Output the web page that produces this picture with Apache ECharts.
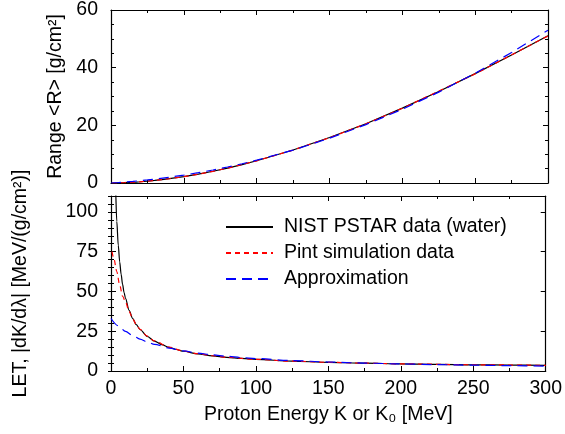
<!DOCTYPE html>
<html>
<head>
<meta charset="utf-8">
<script src="https://cdn.jsdelivr.net/npm/echarts@6/dist/echarts.min.js"></script>
<style>
  html, body { margin: 0; padding: 0; background: #fff; }
  #chart { width: 565px; height: 434px; }
</style>
</head>
<body>
<div id="chart"></div>
<script>
// NIST PSTAR (water)
const nistK = [1, 2, 3, 4, 5, 6, 7, 8, 9, 10, 12.5, 15, 17.5, 20, 25, 30, 35, 40, 45, 50, 60, 70, 80, 90, 100, 125, 150, 175, 200, 225, 250, 275, 300];
const nistRange = [0.0025, 0.0076, 0.0152, 0.0249, 0.0362, 0.0497, 0.0652, 0.0826, 0.1018, 0.123, 0.187, 0.254, 0.336, 0.426, 0.637, 0.885, 1.17, 1.49, 1.84, 2.22, 3.09, 4.08, 5.18, 6.40, 7.72, 11.46, 15.77, 20.57, 25.96, 31.73, 37.94, 44.38, 51.1];
const nistLET = [260.8, 162.4, 117.2, 94.0, 79.1, 68.6, 60.7, 54.4, 49.5, 45.7, 38.2, 32.9, 29.1, 26.1, 21.8, 18.8, 16.6, 14.9, 13.5, 12.4, 10.8, 9.56, 8.62, 7.89, 7.29, 6.20, 5.45, 4.91, 4.49, 4.17, 3.91, 3.70, 3.52];

// Pint simulation
const pintK = [0.7, 2, 4, 6, 8, 10, 12.5, 15, 17.5, 20, 25, 30, 40, 50, 60, 70, 80, 100, 125, 150, 175, 200, 250, 300];
const pintRange = [0.001, 0.0070, 0.0240, 0.0490, 0.0815, 0.121, 0.185, 0.252, 0.333, 0.423, 0.632, 0.878, 1.48, 2.20, 3.07, 4.06, 5.16, 7.69, 11.42, 15.72, 20.52, 25.90, 37.86, 51.0];
const pintLET = [75, 70.5, 62.5, 54, 47, 43.5, 37.5, 32.7, 29.1, 26.2, 21.9, 18.9, 15.0, 12.5, 10.9, 9.6, 8.65, 7.32, 6.22, 5.47, 4.93, 4.50, 3.92, 3.53];

// Approximation
const approxK = [0, 5, 10, 15, 20, 25, 30, 40, 50, 60, 70, 80, 90, 100, 125, 150, 175, 200, 225, 250, 275, 300];
const approxRange = [0, 0.164, 0.352, 0.564, 0.801, 1.063, 1.348, 1.993, 2.735, 3.575, 4.512, 5.547, 6.68, 7.91, 11.41, 15.53, 20.25, 25.58, 31.52, 38.08, 45.24, 53.01];
const approxLET = [33.0, 28.4, 24.96, 22.25, 20.07, 18.28, 16.78, 14.42, 12.64, 11.25, 10.14, 9.23, 8.46, 7.82, 6.57, 5.66, 4.97, 4.43, 4.00, 3.65, 3.35, 3.10];

const names = ['NIST PSTAR data (water)', 'Pint simulation data', 'Approximation'];

const pairs = (xs, ys) => xs.map((x, i) => [x, ys[i]]);

const FONT = 'Liberation Sans, Arial, Helvetica, sans-serif';
const FS = 19.5;

const chart = echarts.init(document.getElementById('chart'), null, { renderer: 'canvas' });

const axisLine = { show: true, onZero: false, lineStyle: { color: '#000', width: 1.2 } };
const majorTick = { show: true, inside: true, length: 5, lineStyle: { color: '#000', width: 1 } };
const minorTickX = { show: true, splitNumber: 2, length: 3, lineStyle: { color: '#000', width: 1 } };

const xBase = (grid, pos, labels) => ({
  type: 'value', gridIndex: grid, position: pos, min: 0, max: 300, interval: 50,
  axisLine, axisTick: majorTick, minorTick: minorTickX, splitLine: { show: false },
  axisLabel: { show: labels, color: '#000', fontSize: FS, fontFamily: FONT, margin: 8 }
});

const option = {
  animation: false,
  backgroundColor: '#fff',
  grid: [
    { left: 111, right: 17, top: 7, height: 176 },
    { left: 111, right: 17, top: 196, height: 175 }
  ],
  legend: {
    data: names,
    orient: 'vertical',
    left: 225,
    top: 217,
    padding: 0,
    itemWidth: 47,
    itemHeight: 14,
    itemGap: 6,
    itemStyle: { opacity: 0 },
    textStyle: { color: '#000', fontSize: FS, fontFamily: FONT, padding: [0, 0, 0, 6] }
  },
  xAxis: [
    xBase(0, 'bottom', false),
    xBase(0, 'top', false),
    Object.assign(xBase(1, 'bottom', true), {
      name: 'Proton Energy K or K₀ [MeV]', nameLocation: 'middle', nameGap: 34,
      nameTextStyle: { color: '#000', fontSize: FS, fontFamily: FONT }
    }),
    xBase(1, 'top', false)
  ],
  yAxis: [
    {
      type: 'value', gridIndex: 0, position: 'left', min: 0, max: 60, interval: 20,
      axisLine, axisTick: majorTick,
      minorTick: { show: true, splitNumber: 4, length: 3, lineStyle: { color: '#000' } },
      splitLine: { show: false },
      axisLabel: { color: '#000', fontSize: FS, fontFamily: FONT, margin: 13 },
      name: 'Range <R> [g/cm²]', nameLocation: 'middle', nameGap: 45,
      nameTextStyle: { color: '#000', fontSize: FS, fontFamily: FONT }
    },
    {
      type: 'value', gridIndex: 0, position: 'right', min: 0, max: 60, interval: 20,
      axisLine, axisTick: majorTick,
      minorTick: { show: true, splitNumber: 4, length: 3, lineStyle: { color: '#000' } },
      splitLine: { show: false }, axisLabel: { show: false }
    },
    {
      type: 'value', gridIndex: 1, position: 'left', min: 0, max: 110, interval: 25,
      axisLine, axisTick: majorTick, splitLine: { show: false },
      axisLabel: { color: '#000', fontSize: FS, fontFamily: FONT, margin: 13, showMaxLabel: false },
      name: 'LET, |dK/dλ| [MeV/(g/cm²)]', nameLocation: 'middle', nameGap: 80,
      nameTextStyle: { color: '#000', fontSize: FS, fontFamily: FONT }
    },
    {
      type: 'value', gridIndex: 1, position: 'right', min: 0, max: 110, interval: 25,
      axisLine, axisTick: majorTick, splitLine: { show: false }, axisLabel: { show: false }
    },
    // minor ticks every 5 on the LET panel
    {
      type: 'value', gridIndex: 1, position: 'left', min: 0, max: 110, interval: 5,
      axisLine: { show: false }, axisTick: { show: true, inside: true, length: 3, lineStyle: { color: '#000' } },
      splitLine: { show: false }, axisLabel: { show: false }
    },
    {
      type: 'value', gridIndex: 1, position: 'right', min: 0, max: 110, interval: 5,
      axisLine: { show: false }, axisTick: { show: true, inside: true, length: 3, lineStyle: { color: '#000' } },
      splitLine: { show: false }, axisLabel: { show: false }
    }
  ],
  series: [
    // top panel: range
    { name: names[0], type: 'line', xAxisIndex: 0, yAxisIndex: 0, data: pairs(nistK, nistRange),
      symbol: 'none', lineStyle: { color: '#000', width: 1.2, type: 'solid' }, itemStyle: { color: '#000' } },
    { name: names[1], type: 'line', xAxisIndex: 0, yAxisIndex: 0, data: pairs(pintK, pintRange),
      symbol: 'none', lineStyle: { color: '#ff0000', width: 1.2, type: [5, 4] }, itemStyle: { color: '#ff0000' } },
    { name: names[2], type: 'line', xAxisIndex: 0, yAxisIndex: 0, data: pairs(approxK, approxRange),
      symbol: 'none', lineStyle: { color: '#0000ff', width: 1.2, type: [10, 6] }, itemStyle: { color: '#0000ff' } },
    // bottom panel: LET
    { name: names[0], type: 'line', xAxisIndex: 2, yAxisIndex: 2, data: pairs(nistK, nistLET),
      symbol: 'none', smooth: 0.3, smoothMonotone: 'x', lineStyle: { color: '#000', width: 1.2, type: 'solid' }, itemStyle: { color: '#000' } },
    { name: names[1], type: 'line', xAxisIndex: 2, yAxisIndex: 2, data: pairs(pintK, pintLET),
      symbol: 'none', smooth: 0.3, smoothMonotone: 'x', lineStyle: { color: '#ff0000', width: 1.2, type: [5, 4] }, itemStyle: { color: '#ff0000' } },
    { name: names[2], type: 'line', xAxisIndex: 2, yAxisIndex: 2, data: pairs(approxK, approxLET),
      symbol: 'none', smooth: 0.3, smoothMonotone: 'x', lineStyle: { color: '#0000ff', width: 1.2, type: [10, 6] }, itemStyle: { color: '#0000ff' } }
  ]
};

chart.setOption(option);
</script>
</body>
</html>
